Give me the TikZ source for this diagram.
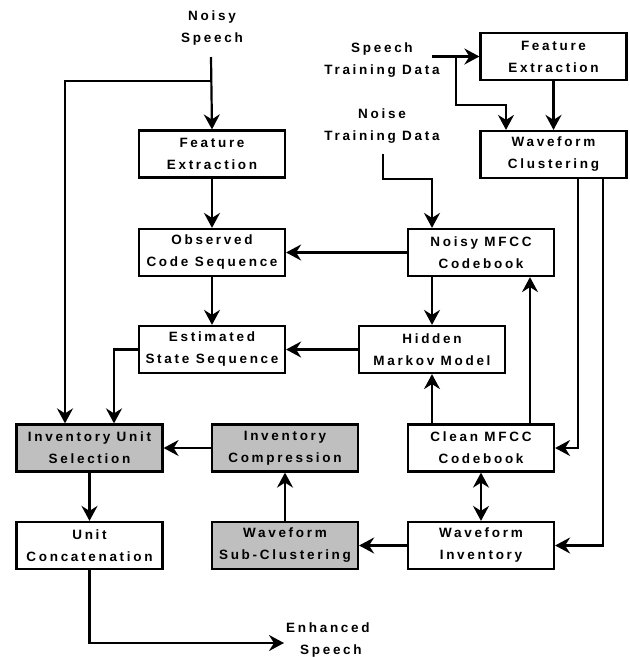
\documentclass[tikz,border=0pt]{standalone}
\usepackage{fontspec}
\setmainfont{Liberation Sans}[LetterSpace=20.0]
\usetikzlibrary{arrows.meta,calc}
\begin{document}
\begin{tikzpicture}[x=1pt,y=-1pt,
  font=\fontsize{13.5}{22}\selectfont\bfseries,
  box/.style={draw,line width=2.2pt,minimum width=146pt,minimum height=47pt,align=center,inner sep=0pt},
  gbox/.style={box,fill=black!25},
  lbl/.style={align=center,inner sep=0pt},
  conn/.style={line width=2.2pt},
  arr/.style={conn,-{Stealth[length=15pt,width=16pt,inset=5pt]}},
  darr/.style={conn,{Stealth[length=15pt,width=16pt,inset=5pt]}-{Stealth[length=15pt,width=16pt,inset=5pt]}}]
\useasboundingbox (0,0) rectangle (630,657);
% nodes
\node[box] (fe1) at (212,154) {Feature\\Extraction};
\node[box] (ocs) at (212,252.5) {Observed\\Code Sequence};
\node[box] (ess) at (212,349.5) {Estimated\\State Sequence};
\node[gbox] (ius) at (89.5,448) {Inventory Unit\\Selection};
\node[box] (uc) at (89.5,545.5) {Unit\\Concatenation};
\node[gbox] (ic) at (285,448) {Inventory\\Compression};
\node[gbox] (wsc) at (285,545.5) {Waveform\\Sub-Clustering};
\node[box] (fe2) at (553.5,56.5) {Feature\\Extraction};
\node[box] (wc) at (553.5,154.5) {Waveform\\Clustering};
\node[box] (nmc) at (481,252.5) {Noisy MFCC\\Codebook};
\node[box] (hmm) at (432,349.5) {Hidden\\Markov Model};
\node[box] (cmc) at (481,448) {Clean MFCC\\Codebook};
\node[box] (wi) at (481,545.5) {Waveform\\Inventory};
% text labels
\node[lbl] (ns) at (212,28) {Noisy\\Speech};
\node[lbl] (std) at (382,60) {Speech\\Training Data};
\node[lbl] (ntd) at (382,126) {Noise\\Training Data};
\node[lbl,anchor=west] (es) at (286,640) {Enhanced\\\hspace*{6pt}Speech};
% coordinates
\coordinate (nsS) at (211,57);
\coordinate (nsB) at (211,81);
\coordinate (stdS) at (432,56.5);
\coordinate (stdB) at (456,56.5);
\coordinate (ntdS) at (383,154);
\coordinate (esT) at (284,643);
% connectors
\draw[arr] (nsS) -- (fe1.north);
\draw[arr] (nsB) -| ([xshift=-24.5pt]ius.north);
\draw[arr] (fe1) -- (ocs);
\draw[arr] (ocs) -- (ess);
\draw[arr] (ess.west) -| ([xshift=24.5pt]ius.north);
\draw[arr] (nmc.west) -- (ocs.east);
\draw[arr] (hmm.west) -- (ess.east);
\draw[arr] ([xshift=-49pt]nmc.south) -- (hmm.north);
\draw[arr] ([xshift=-49pt]cmc.north) -- (hmm.south);
\draw[arr] ([xshift=49pt]cmc.north) -- ([xshift=49pt]nmc.south);
\draw[arr] ([xshift=24.5pt]wc.south) |- (cmc.east);
\draw[arr] ([xshift=49.5pt]wc.south) |- (wi.east);
\draw[darr] (cmc.south) -- (wi.north);
\draw[arr] (wi.west) -- (wsc.east);
\draw[arr] (wsc.north) -- (ic.south);
\draw[arr] (ic.west) -- (ius.east);
\draw[arr] (ius.south) -- (uc.north);
\draw[arr] (uc.south) |- (esT);
\draw[arr] (stdS) -- (fe2.west);
\draw[arr] (stdB) -- (456,105) -| ([xshift=-47.5pt]wc.north);
\draw[arr] (fe2.south) -- (wc.north);
\draw[arr] (ntdS) -- (383,179) -| ([xshift=-49pt]nmc.north);
\end{tikzpicture}
\end{document}
